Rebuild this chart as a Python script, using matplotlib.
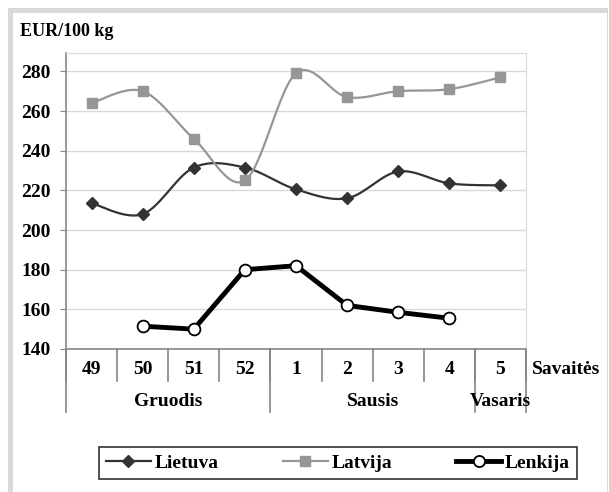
import numpy as np
import matplotlib.pyplot as plt
from matplotlib.patches import Rectangle
from matplotlib.lines import Line2D

weeks = ['49', '50', '51', '52', '1', '2', '3', '4', '5']
months = ['Gruodis', 'Sausis', 'Vasaris']
month_span = [(0, 4), (4, 8), (8, 9)]
lietuva = [213.5, 208, 231.5, 231.5, 220.5, 216, 229.5, 223.5, 222.5]
latvija = [264, 270, 246, 225, 279, 267, 270, 271, 277]
lenkija = [np.nan, 151.5, 150, 180, 182, 162, 158.5, 155.5, np.nan]

plt.rcParams['font.family'] = ['Liberation Serif', 'DejaVu Serif']
plt.rcParams['font.weight'] = 'bold'
FS = 14


def smooth(xs, ys, n=30):
    # excel-like smoothed line (catmull-rom as bezier)
    xs = np.asarray(xs, float)
    ys = np.asarray(ys, float)
    ok = ~np.isnan(ys)
    xs, ys = xs[ok], ys[ok]
    px, py = [], []
    m = len(xs)
    for i in range(m - 1):
        p0 = (xs[max(i - 1, 0)], ys[max(i - 1, 0)])
        p1 = (xs[i], ys[i])
        p2 = (xs[i + 1], ys[i + 1])
        p3 = (xs[min(i + 2, m - 1)], ys[min(i + 2, m - 1)])
        c1 = (p1[0] + (p2[0] - p0[0]) / 6, p1[1] + (p2[1] - p0[1]) / 6)
        c2 = (p2[0] - (p3[0] - p1[0]) / 6, p2[1] - (p3[1] - p1[1]) / 6)
        t = np.linspace(0, 1, n)
        bx = (1-t)**3*p1[0] + 3*(1-t)**2*t*c1[0] + 3*(1-t)*t**2*c2[0] + t**3*p2[0]
        by = (1-t)**3*p1[1] + 3*(1-t)**2*t*c1[1] + 3*(1-t)*t**2*c2[1] + t**3*p2[1]
        px.extend(bx)
        py.extend(by)
    return px, py


W, H = 609, 492
fig = plt.figure(figsize=(W / 100, H / 100), dpi=100)

# outer frame
fig.patches.append(Rectangle((8 / W, 0), 600 / W, (H - 8) / H, transform=fig.transFigure,
                             facecolor='#d9d9d9', edgecolor='none', zorder=-10))
fig.patches.append(Rectangle((13 / W, 0), 594 / W, (H - 13) / H, transform=fig.transFigure,
                             facecolor='white', edgecolor='none', zorder=-9))

ax = fig.add_axes([66 / W, (H - 349) / H, 460 / W, 296.5 / H])
x = np.arange(len(weeks))

sx, sy = smooth(x, lietuva)
ax.plot(sx, sy, color='#333333', lw=1.6, zorder=3)
ax.plot(x, lietuva, 'D', color='#333333', ms=6, zorder=4)

sx, sy = smooth(x, latvija)
ax.plot(sx, sy, color='#969696', lw=1.6, zorder=3)
ax.plot(x, latvija, 's', color='#969696', ms=6.5, zorder=4)

ax.plot(x, lenkija, color='black', lw=3.5, marker='o', mfc='white', mec='black',
        mew=1.3, ms=8.5, zorder=5)

ax.set_xlim(-0.5, len(weeks) - 0.5)
ax.set_ylim(140, 289.5)
ax.set_yticks(np.arange(140, 281, 20))
ax.tick_params(axis='y', labelsize=FS, length=4, color='#868686', pad=7)
ax.grid(axis='y', color='#d9d9d9', lw=1)
ax.set_axisbelow(True)
ax.set_xticks([])
for s in ['top', 'right']:
    ax.spines[s].set_color('#d9d9d9')
for s in ['left', 'bottom']:
    ax.spines[s].set_color('#868686')
    ax.spines[s].set_linewidth(1.2)

# category axis (two levels)
tr = ax.get_xaxis_transform()
px = 1 / 296.5
for i in range(len(weeks) + 1):
    ax.plot([i - 0.5, i - 0.5], [0, -32 * px], color='#868686', lw=1.2,
            transform=tr, clip_on=False)
for i, w in enumerate(weeks):
    ax.text(i, -21 * px, w, transform=tr, ha='center', va='center', fontsize=FS)
for (a, b), m in zip(month_span, months):
    ax.plot([a - 0.5, a - 0.5], [0, -63 * px], color='#868686', lw=1.2,
            transform=tr, clip_on=False)
    ax.text((a + b - 1) / 2, -53 * px, m, transform=tr, ha='center', va='center', fontsize=FS)
ax.plot([len(weeks) - 0.5] * 2, [0, -63 * px], color='#868686', lw=1.2,
        transform=tr, clip_on=False)
ax.text(566 / W, (H - 370) / H, 'Savaitės', transform=fig.transFigure, ha='center',
        va='center', fontsize=FS)

fig.text(20 / W, (H - 31) / H, 'EUR/100 kg', ha='left', va='center', fontsize=FS - 1)

handles = [
    Line2D([], [], color='#333333', lw=1.6, marker='D', ms=6),
    Line2D([], [], color='#969696', lw=1.6, marker='s', ms=6.5),
    Line2D([], [], color='black', lw=3.5, marker='o', mfc='white', mec='black', mew=1.3, ms=8),
]
leg = fig.legend(handles, ['Lietuva', 'Latvija', 'Lenkija'], loc='center',
                 bbox_to_anchor=(338 / W, (H - 463) / H), ncol=3, frameon=True,
                 fancybox=False, edgecolor='black', prop={'size': FS, 'weight': 'bold'},
                 handlelength=2.3, handletextpad=0.2, columnspacing=3.3, borderpad=0.35,
                 borderaxespad=0)
leg.get_frame().set_linewidth(1.2)

fig.savefig('out.png', dpi=100)
